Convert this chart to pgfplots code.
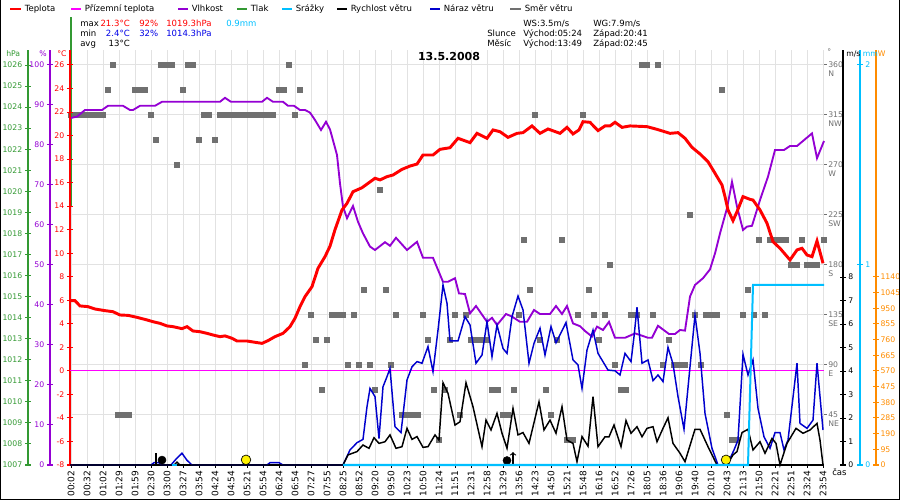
\documentclass[border=0pt]{standalone}
\usepackage{fontspec}
\setmainfont{DejaVu Sans}
\usepackage{pgfplots}
\pgfplotsset{compat=1.18}
\definecolor{cTemp}{RGB}{255,0,0}
\definecolor{cGround}{RGB}{255,0,255}
\definecolor{cHum}{RGB}{148,0,211}
\definecolor{cPres}{RGB}{51,153,51}
\definecolor{cRain}{RGB}{0,191,255}
\definecolor{cGust}{RGB}{0,0,205}
\definecolor{cDir}{RGB}{112,112,112}
\definecolor{cSol}{RGB}{255,140,0}
\definecolor{cGrid}{RGB}{226,226,226}
\definecolor{cMin}{RGB}{0,0,230}
\newcommand\sm{\fontsize{6.4pt}{7.6pt}\selectfont}
\newcommand\xl{\fontsize{6.75pt}{8pt}\selectfont}
\newcommand\tk{\fontsize{5.8pt}{7pt}\selectfont}
\newcommand\dl[2]{\begin{tabular}[t]{@{}l@{}}#1\\[-0.8pt]#2\end{tabular}}
\pgfplotsset{
  base/.style={scale only axis, width=565.5pt, height=311.25pt,
    at={(52.5pt,26.25pt)}, anchor=south west, xmin=-1, xmax=753,
    /pgf/number format/assume math mode=true,
    /pgf/number format/1000 sep={},
    ticklabel style={font=\tk}, tick align=center, major tick length=4pt,
    clip=false},
  dataax/.style={base, hide x axis},
}
\begin{document}
\sm
\begin{tikzpicture}
\useasboundingbox (0,0) rectangle (675pt,375pt);
% ---------- wind direction axis (grid, x labels) ----------
\begin{axis}[base, ymin=0, ymax=373.5,
  axis x line*=bottom, axis y line*=right,
  x axis line style={black, line width=1.5pt},
  y axis line style={draw=none},
  xtick={0,16,...,752},
  xticklabels={00:02,00:32,01:02,01:29,01:59,02:30,03:00,03:27,03:54,04:24,04:54,05:21,05:54,06:24,06:54,07:27,07:55,08:25,08:52,09:20,09:50,10:23,10:50,11:24,11:51,12:31,12:58,13:29,13:56,14:23,14:50,15:21,15:48,16:16,16:52,17:26,18:05,18:36,19:06,19:40,20:10,20:43,21:13,21:50,22:21,22:51,23:24,23:54},
  xticklabel style={rotate=90, anchor=east, font=\xl, inner sep=2pt},
  xtick style={black, line width=0.6pt},
  tick align=outside, major tick length=2pt,
  ytick={45,90,...,360},
  yticklabels={{\dl{45}{NE}},{\dl{90}{E}},{\dl{135}{SE}},{\dl{180}{S}},{\dl{225}{SW}},{\dl{270}{W}},{\dl{315}{NW}},{\dl{360}{N}}},
  ytick style={cDir, line width=0.75pt},
  yticklabel style={cDir, anchor=base west, yshift=-2.1pt, inner sep=1pt},
  xmajorgrids, ymajorgrids, grid style={cGrid, line width=0.75pt},
]
\addplot[only marks, mark=square*, mark size=1.9pt, cDir] coordinates {
(0,315) (5,315) (10,315) (16,315) (21,315) (26,315) (32,315) (37,337.5) (42,360) (47,45) (53,45) (58,45) (64,337.5) (69,337.5) (74,337.5) (80,315) (85,292.5) (90,360) (96,360) (101,360) (106,270) (112,337.5) (117,360) (122,360) (128,292.5) (133,315) (138,315) (144,292.5) (149,315) (154,315) (160,315) (165,315) (170,315) (176,315) (181,315) (186,315) (192,315) (197,315) (202,315) (208,337.5) (213,337.5) (218,360) (224,315) (229,337.5) (234,90) (240,135) (245,112.5) (251,67.5) (256,112.5) (261,135) (266,135) (272,135) (277,90) (283,135) (288,90) (293,157.5) (299,90) (304,67.5) (309,247.5) (315,157.5) (320,90) (325,135) (331,45) (336,45) (342,45) (347,45) (352,135) (357,112.5) (363,67.5) (368,22.5) (374,67.5) (379,112.5) (384,135) (389,45) (395,135) (400,112.5) (405,112.5) (411,112.5) (416,112.5) (421,67.5) (427,67.5) (432,45) (437,45) (443,67.5) (448,135) (453,202.5) (459,157.5) (464,315) (469,112.5) (475,67.5) (480,45) (486,112.5) (491,202.5) (496,22.5) (502,22.5) (507,135) (512,315) (518,157.5) (523,135) (528,112.5) (534,135) (539,180) (544,90) (550,67.5) (555,67.5) (560,135) (566,135) (571,360) (576,360) (582,135) (587,360) (592,90) (598,112.5) (603,90) (608,90) (614,90) (619,225) (624,135) (630,90) (635,135) (640,135) (646,135) (651,337.5) (656,45) (661,22.5) (666,22.5) (672,135) (677,157.5) (683,135) (688,202.5) (694,135) (699,202.5) (704,202.5) (709,202.5) (715,202.5) (720,180) (726,180) (731,202.5) (736,180) (741,180) (746,180) (753,202.5)};
\end{axis}
% ---------- pressure ----------
\begin{axis}[dataax, ymin=1007, ymax=1026.7125,
  axis y line*=left,
  y axis line style={cPres, line width=1pt, xshift=-31.5pt},
  ytick={1007,1008,...,1026},
  ytick style={cPres, line width=0.75pt, xshift=-31.5pt},
  yticklabel style={cPres, xshift=-31.5pt},
]
\addplot[cPres, line width=1pt] coordinates {(0,1019.3) (0,1028.3)};
\end{axis}
% ---------- humidity ----------
\begin{axis}[dataax, ymin=0, ymax=103.75,
  axis y line*=left,
  y axis line style={cHum, line width=1pt, xshift=-15pt},
  ytick={0,10,...,100},
  ytick style={cHum, line width=0.75pt, xshift=-15pt},
  yticklabel style={cHum, xshift=-15pt},
]
\addplot[cHum, line width=1.4pt] coordinates {
(-1,86.7) (6,87.1) (14,88.75) (31,88.75) (37,89.8) (52,89.8) (59,88.75) (62,88.75) (69,89.8) (84,89.8) (91,90.8) (149,90.8) (154,91.8) (160,90.8) (191,90.8) (196,91.8) (202,90.8) (212,90.8) (217,89.8) (223,89.8) (229,88.75) (234,88.75) (239,88.1) (244,86.25) (250,83.75) (255,85.8) (259,83.9) (266,77.5) (269,70.4) (272,64.6) (276,61.7) (282,64.75) (287,60.8) (292,57.9) (299,54.6) (304,53.75) (314,55.7) (319,54.8) (325,56.8) (336,53.75) (346,55.8) (352,51.8) (362,51.8) (372,45.8) (377,45.8) (384,46.7) (388,42.9) (394,42.75) (399,37.9) (405,39.75) (416,35.8) (421,36.8) (426,35.0) (435,37.75) (441,37.1) (449,35.8) (456,35.8) (463,38.75) (469,37.75) (479,37.75) (485,39.75) (491,37.75) (496,39.75) (502,35.4) (509,34.7) (514,33.5) (521,32.1) (526,34.6) (532,33.75) (538,35.8) (544,31.8) (554,31.8) (564,32.9) (569,32.5) (577,31.8) (581,31.8) (587,34.8) (598,32.75) (604,32.75) (609,33.75) (614,33.6) (619,42.1) (624,45) (632,46.7) (639,48.9) (644,52.9) (649,57.9) (656,64.2) (661,70.8) (666,64.6) (672,58.75) (676,59.6) (681,59.8) (689,66.25) (697,72.1) (704,78.75) (713,78.75) (719,79.75) (726,79.75) (741,82.9) (746,76.7) (753,81)};
\end{axis}
% ---------- temperature ----------
\begin{axis}[dataax, ymin=-8, ymax=27.275,
  axis y line*=left,
  y axis line style={cTemp, line width=1pt},
  ytick={-8,-6,...,26},
  ytick style={cTemp, line width=0.75pt},
  yticklabel style={cTemp},
]
\addplot[cGround, line width=0.9pt] coordinates {(-1,0) (753,0)};
\addplot[cTemp, line width=2.2pt] coordinates {
(-1,5.97) (4,5.97) (9,5.52) (17,5.46) (24,5.26) (34,5.12) (42,5.03) (49,4.75) (57,4.72) (66,4.55) (76,4.33) (82,4.18) (89,4.04) (96,3.82) (102,3.76) (111,3.59) (116,3.76) (122,3.39) (129,3.33) (136,3.19) (142,3.05) (149,2.91) (154,2.97) (161,2.77) (166,2.54) (176,2.54) (184,2.43) (191,2.34) (197,2.57) (204,2.91) (212,3.19) (219,3.76) (224,4.47) (229,5.46) (234,6.31) (241,7.16) (247,8.72) (254,9.71) (259,10.6) (264,12.0) (271,13.68) (276,14.24) (282,15.23) (291,15.57) (297,15.94) (304,16.37) (309,16.23) (316,16.51) (322,16.65) (331,17.13) (339,17.41) (346,17.58) (352,18.35) (362,18.35) (369,18.83) (379,18.97) (387,19.77) (399,19.4) (406,20.19) (416,19.77) (422,20.48) (429,20.33) (437,19.85) (446,20.19) (452,20.25) (461,20.82) (469,20.19) (477,20.56) (489,20.19) (496,20.7) (502,20.14) (508,20.48) (512,21.18) (519,21.13) (527,20.42) (534,20.82) (539,20.82) (544,21.13) (551,20.7) (559,20.82) (576,20.76) (586,20.53) (599,20.19) (607,20.25) (614,19.77) (621,19.0) (629,18.44) (637,17.78) (642,17.08) (647,16.37) (651,15.8) (654,14.81) (657,13.68) (662,12.77) (666,13.53) (672,14.81) (679,14.58) (682,14.52) (689,13.68) (696,12.55) (702,10.98) (709,10.42) (719,9.43) (726,10.28) (731,10.42) (736,9.85) (741,9.71) (746,11.04) (752,9.15)};
\end{axis}
% ---------- wind speed / gust ----------
\begin{axis}[dataax, ymin=0, ymax=17.66,
  axis y line*=right,
  y axis line style={black, line width=1pt, xshift=14.25pt},
  ytick={0,1,...,8},
  ytick style={black, line width=0.75pt, xshift=14.25pt},
  yticklabel style={black, xshift=14.25pt, inner sep=1.8pt},
]
\addplot[cGust, line width=1.1pt] coordinates {
(-1,0) (80,0) (83,0.1) (88,0.1) (90,0) (100,0) (105,0.25) (111,0.5) (116,0.2) (121,0) (196,0) (199,0.1) (208,0.1) (212,0) (272,0) (279,0.64) (286,0.95) (292,1.09) (296,2.48) (299,3.26) (304,2.91) (308,1.13) (312,3.33) (316,3.76) (319,4.11) (324,1.63) (330,1.38) (336,3.62) (341,4.18) (346,4.4) (351,4.33) (357,5.04) (362,3.97) (367,5.74) (372,7.66) (376,6.88) (379,5.28) (387,5.28) (394,6.31) (399,5.96) (405,4.33) (411,4.68) (416,6.1) (421,4.61) (426,5.96) (432,4.96) (436,4.75) (441,6.31) (447,7.19) (452,6.6) (458,4.33) (463,5.18) (469,5.82) (474,4.68) (480,5.89) (485,5.2) (495,6.06) (502,4.47) (507,4.26) (511,3.26) (516,4.89) (522,5.74) (527,4.75) (537,4.04) (544,4.01) (549,3.83) (554,4.75) (560,4.4) (563,5.46) (566,6.71) (571,4.33) (577,4.47) (582,3.59) (587,3.83) (592,3.55) (597,5.01) (602,4.3) (607,2.91) (613,1.52) (619,4.18) (624,6.38) (629,4.75) (634,2.2) (641,0.71) (647,0) (656,0) (663,0.64) (667,1.06) (672,4.71) (677,3.83) (682,4.47) (687,2.41) (693,1.2) (699,0.71) (704,1.38) (709,1.38) (713,0.64) (717,1.06) (726,4.33) (729,1.77) (736,1.56) (742,1.91) (746,4.33) (752,1.49)};
\addplot[black, line width=1.1pt] coordinates {
(-1,0) (103,0) (106,0.12) (109,0) (272,0) (277,0.43) (286,0.57) (292,0.85) (298,0.71) (303,1.16) (308,0.92) (314,0.99) (319,1.28) (325,0.71) (331,0.78) (336,1.56) (341,1.09) (346,1.21) (352,0.75) (357,0.78) (364,1.28) (368,1.06) (372,3.5) (377,3.05) (384,1.7) (389,1.84) (395,3.5) (402,2.48) (411,0.78) (415,1.91) (420,1.49) (426,2.2) (431,1.35) (436,0.71) (442,2.41) (447,1.28) (452,1.38) (458,0.92) (468,2.69) (473,1.49) (479,1.91) (485,1.35) (491,2.48) (496,1.06) (502,0.92) (506,0.14) (511,1.21) (517,0.8) (522,2.91) (527,0.78) (534,1.2) (538,1.2) (543,1.7) (550,0.78) (555,1.89) (560,1.35) (566,1.63) (571,1.2) (576,1.56) (582,1.63) (586,0.99) (592,1.56) (597,2.01) (602,0.92) (609,0.5) (614,0.14) (624,1.52) (629,1.52) (637,0.78) (646,0) (656,0) (662,0.43) (666,0.57) (671,1.38) (677,1.52) (682,0.64) (689,0.99) (694,0.5) (701,1.13) (705,0.92) (709,0) (716,0.92) (725,1.56) (732,1.35) (739,1.49) (746,1.77) (749,1.06) (752,0)};
\addplot[black, line width=0.8pt] coordinates {(85,0) (85,0.5)};
\addplot[black, line width=0.8pt, ->] coordinates {(442,0) (442,0.55)};
\addplot[only marks, mark=*, mark size=3pt, black] coordinates {(91,0.21) (436,0.19)};
\addplot[only marks, mark=*, mark size=3.6pt, mark options={fill=yellow, draw=black, line width=0.5pt}] coordinates {(175,0.22) (655,0.22)};
\end{axis}
% ---------- rain ----------
\begin{axis}[dataax, ymin=0, ymax=2.075,
  axis y line*=right,
  y axis line style={cRain, line width=1pt, xshift=27pt},
  ytick={0,1,2},
  ytick style={cRain, line width=0.75pt, xshift=27pt},
  yticklabel style={cRain, xshift=27pt, inner sep=1.8pt},
]
\addplot[cRain, line width=1.5pt] coordinates {(101,0) (106,0)};
\addplot[cRain, line width=1.5pt] coordinates {(272,0) (677,0) (682,0.9) (753,0.9)};
\end{axis}
% ---------- solar radiation (axis only) ----------
\begin{axis}[dataax, ymin=0, ymax=2516.5,
  axis y line*=right,
  y axis line style={cSol, line width=1pt, xshift=39pt},
  ytick={0,95,...,1140},
  ytick style={cSol, line width=0.75pt, xshift=39pt},
  yticklabel style={cSol, xshift=39pt, inner sep=1.2pt},
]
\end{axis}
% ---------- texts in pixel coordinates ----------
\begin{scope}[x=0.75pt, y=-0.75pt, shift={(0pt,375pt)}]
\draw[black, line width=0.9pt] (0.5,0) -- (0.5,499.5) -- (899.5,499.5) -- (899.5,0);
% legend
\foreach \xa/\xb/\col/\txt in {10/21/cTemp/Teplota, 71/81/cGround/Přízemní teplota, 178/188/cHum/Vlhkost, 237/247/cPres/Tlak, 282/292/cRain/Srážky, 337/347/black/Rychlost větru, 430/440/cGust/Náraz větru, 510/521/cDir/Směr větru}{
  \draw[\col, line width=2.2pt] (\xa,9) -- (\xb,9);
  \node[anchor=base west, inner sep=0pt, font=\sm] at (\xb+3.5,12) {\txt};
}
% stats
\node[anchor=base west, inner sep=0pt, font=\sm] at (80,27) {max};
\node[anchor=base west, inner sep=0pt, font=\sm] at (80,37) {min};
\node[anchor=base west, inner sep=0pt, font=\sm] at (80,47) {avg};
\node[anchor=base east, inner sep=0pt, font=\sm, text=cTemp] at (130,27) {21.3°C};
\node[anchor=base east, inner sep=0pt, font=\sm, text=cMin] at (130,37) {2.4°C};
\node[anchor=base east, inner sep=0pt, font=\sm] at (130,47) {13°C};
\node[anchor=base west, inner sep=0pt, font=\sm, text=cTemp] at (139,27) {92\%};
\node[anchor=base west, inner sep=0pt, font=\sm, text=cMin] at (139,37) {32\%};
\node[anchor=base west, inner sep=0pt, font=\sm, text=cTemp] at (166,27) {1019.3hPa};
\node[anchor=base west, inner sep=0pt, font=\sm, text=cMin] at (166,37) {1014.3hPa};
\node[anchor=base west, inner sep=0pt, font=\sm, text=cRain] at (226,27) {0.9mm};
\node[anchor=base west, inner sep=0pt, font=\sm] at (523,27) {WS:3.5m/s};
\node[anchor=base west, inner sep=0pt, font=\sm] at (593,27) {WG:7.9m/s};
\node[anchor=base west, inner sep=0pt, font=\sm] at (487,37) {Slunce};
\node[anchor=base west, inner sep=0pt, font=\sm] at (523,37) {Východ:05:24};
\node[anchor=base west, inner sep=0pt, font=\sm] at (593,37) {Západ:20:41};
\node[anchor=base west, inner sep=0pt, font=\sm] at (487,47) {Měsíc};
\node[anchor=base west, inner sep=0pt, font=\sm] at (523,47) {Východ:13:49};
\node[anchor=base west, inner sep=0pt, font=\sm] at (593,47) {Západ:02:45};
% title
\node[anchor=base, inner sep=0pt, font=\fontsize{8.25pt}{10pt}\selectfont\bfseries] at (449,61) {13.5.2008};
% units
\node[anchor=base west, inner sep=0pt, font=\tk, text=cPres] at (6,57) {hPa};
\node[anchor=base west, inner sep=0pt, font=\tk, text=cHum] at (39,57) {\%};
\node[anchor=base west, inner sep=0pt, font=\tk, text=cTemp] at (57,57) {°C};
\node[anchor=base west, inner sep=0pt, font=\tk, text=cDir] at (827,55) {°};
\node[anchor=base west, inner sep=0pt, font=\tk] at (846,57) {m/s};
\node[anchor=base west, inner sep=0pt, font=\tk, text=cRain] at (862.5,57) {mm};
\node[anchor=base west, inner sep=0pt, font=\tk, text=cSol] at (877.5,57) {W};
\node[anchor=base west, inner sep=0pt, font=\sm] at (832,476) {čas};
\end{scope}
\end{tikzpicture}
\end{document}
